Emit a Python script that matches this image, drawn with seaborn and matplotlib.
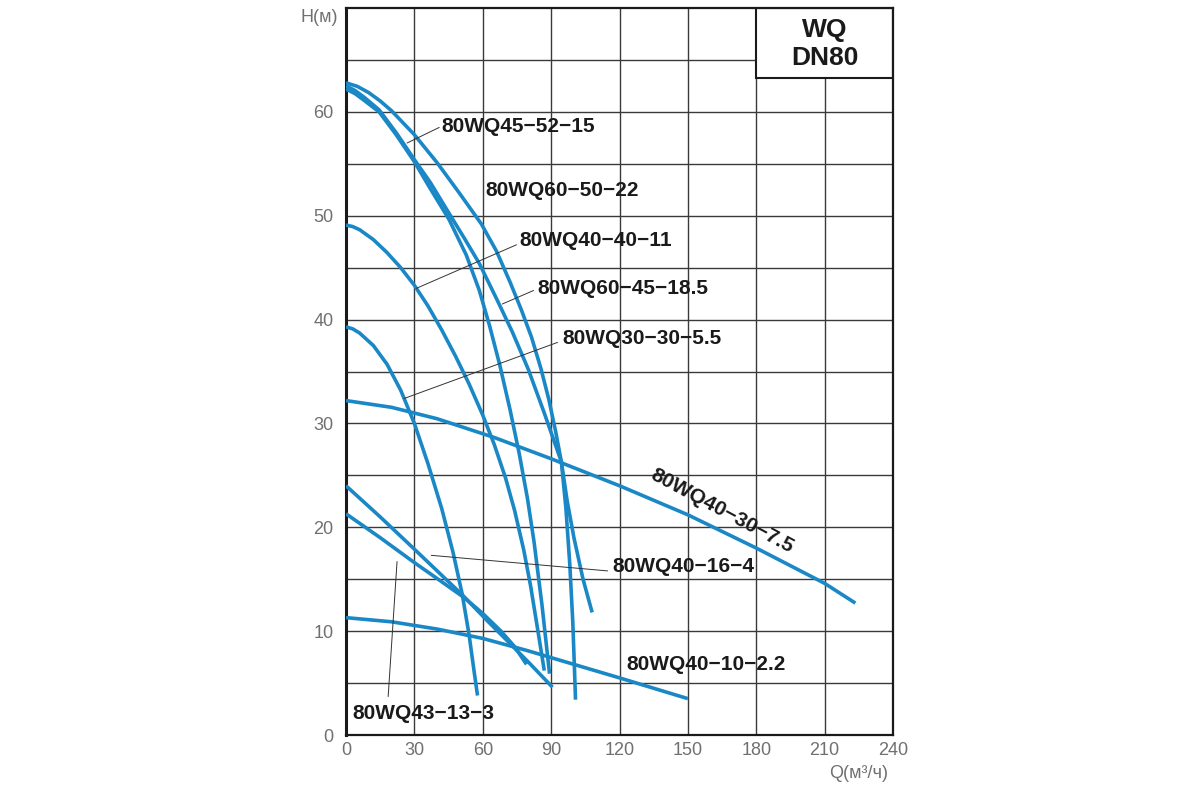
import numpy as np
import pandas as pd
import matplotlib
matplotlib.use("Agg")
import matplotlib.pyplot as plt
from matplotlib.patches import Rectangle
import seaborn as sns

# ---------------- data ----------------
q_60_50_22 = [0, 5, 10, 15, 20, 30, 40, 50, 59.4, 66, 72, 77, 81.4, 85.5, 89, 92, 94.5, 96.5, 98.2, 99.5, 100.3, 100.7]
h_60_50_22 = [62.8, 62.45, 61.85, 61.05, 60.1, 57.8, 55.1, 52.1, 49.2, 46.6, 43.6, 40.9, 38.3, 35.3, 32.3, 29.2, 26.3, 21.8, 16.4, 10.9, 6.0, 3.4]

q_60_45_18 = [0, 4, 8, 14.5, 22, 30, 37, 45.3, 52, 58.5, 66.5, 73, 80, 87, 94.5, 97, 100, 104, 108]
h_60_45_18 = [62.5, 62.05, 61.4, 60.2, 58.0, 55.4, 53.2, 50.2, 47.8, 45.4, 41.8, 38.8, 35.2, 31.0, 26.3, 22.6, 19.0, 15.0, 11.8]

q_45_52_15 = [0, 4, 8, 14.5, 22, 30, 37, 42, 45.3, 52.8, 58.5, 63, 67.5, 72, 76, 79.6, 82.5, 86, 89.3]
h_45_52_15 = [62.2, 61.75, 61.1, 60.0, 57.8, 55.2, 52.6, 50.8, 49.6, 46.2, 42.8, 39.4, 35.6, 31.3, 27.1, 22.8, 18.6, 12.5, 5.9]

q_40_40_11 = [0, 3, 6, 12, 18, 24, 30, 36, 42, 48, 54, 60, 65, 70, 74, 78, 81, 84, 87]
h_40_40_11 = [49.1, 48.95, 48.65, 47.7, 46.45, 45.0, 43.3, 41.3, 39.0, 36.5, 33.8, 30.8, 28.0, 24.75, 21.6, 17.8, 14.35, 10.3, 6.2]

q_30_30_55 = [0, 3, 6, 12, 18, 24, 30, 36, 42, 47, 51, 54, 56, 57.7]
h_30_30_55 = [39.3, 39.1, 38.7, 37.5, 35.7, 33.2, 30.0, 26.1, 21.8, 17.55, 13.55, 9.65, 6.45, 3.8]

q_40_30_75 = [0, 20, 40, 65, 90, 120, 150, 180, 210, 223.5]
h_40_30_75 = [32.2, 31.55, 30.45, 28.65, 26.6, 24.0, 21.2, 18.0, 14.6, 12.7]

q_40_16_4 = [0, 15, 29, 40, 51, 62, 72, 81, 90.6]
h_40_16_4 = [24.0, 21.0, 18.1, 15.8, 13.5, 11.0, 8.8, 6.8, 4.6]

q_43_13_3 = [0, 15, 30, 43, 52, 60, 68, 74, 79.2]
h_43_13_3 = [21.3, 19.0, 16.6, 14.6, 13.2, 11.7, 10.0, 8.5, 6.8]

q_40_10_22 = [0, 20, 40, 60, 80, 100, 120, 150]
h_40_10_22 = [11.3, 10.9, 10.2, 9.3, 8.1, 6.8, 5.5, 3.5]

curve_names = ["80WQ60−50−22", "80WQ60−45−18.5", "80WQ45−52−15", "80WQ40−40−11",
               "80WQ30−30−5.5", "80WQ40−30−7.5", "80WQ40−16−4", "80WQ43−13−3",
               "80WQ40−10−2.2"]
curve_q = [q_60_50_22, q_60_45_18, q_45_52_15, q_40_40_11, q_30_30_55,
           q_40_30_75, q_40_16_4, q_43_13_3, q_40_10_22]
curve_h = [h_60_50_22, h_60_45_18, h_45_52_15, h_40_40_11, h_30_30_55,
           h_40_30_75, h_40_16_4, h_43_13_3, h_40_10_22]

x_ticks = [0, 30, 60, 90, 120, 150, 180, 210, 240]
y_ticks = [0, 10, 20, 30, 40, 50, 60]

# label positions (Q, H) and leader lines
label_names = ["80WQ45−52−15", "80WQ60−50−22", "80WQ40−40−11", "80WQ60−45−18.5",
               "80WQ30−30−5.5", "80WQ40−16−4", "80WQ40−10−2.2", "80WQ43−13−3"]
label_q = [41.8, 61.2, 76.1, 84.0, 95.0, 117.0, 123.0, 2.6]
label_h = [58.6, 52.4, 47.6, 43.0, 38.2, 16.2, 6.8, 2.1]

leader_q0 = [40.9, 74.8, 82.3, 92.8, 114.8, 18.5]
leader_h0 = [58.5, 47.2, 42.8, 37.8, 15.8, 3.7]
leader_q1 = [26.8, 30.8, 68.6, 25.5, 37.4, 22.4]
leader_h1 = [57.0, 43.0, 41.5, 32.4, 17.3, 16.7]

# ---------------- plotting ----------------
sns.set_style("white")
plt.rcParams["font.family"] = ["Liberation Sans", "DejaVu Sans"]

BLUE = "#1a88c6"
GRAY_TXT = "#707070"

fig = plt.figure(figsize=(12, 8), dpi=100)
ax = fig.add_axes([346 / 1200, 1 - 735 / 800, (893 - 346) / 1200, (735 - 8) / 800])

frames = []
for name, q, h in zip(curve_names, curve_q, curve_h):
    frames.append(pd.DataFrame({"Q": q, "H": h, "model": name}))
df = pd.concat(frames, ignore_index=True)

sns.lineplot(data=df, x="Q", y="H", units="model", estimator=None, sort=False,
             color=BLUE, linewidth=2.6, ax=ax, legend=False, zorder=3,
             solid_capstyle="butt", solid_joinstyle="round")

ax.set_xlim(0, 240)
ax.set_ylim(0, 70)
ax.set_xticks(x_ticks)
ax.set_yticks(y_ticks)
ax.set_yticks(np.arange(5, 70, 10), minor=True)
ax.set_xlabel("")
ax.set_ylabel("")
ax.set_axisbelow(True)
ax.grid(True, which="both", axis="y", color="#3a3a3a", linewidth=1.0)
ax.grid(True, which="major", axis="x", color="#3a3a3a", linewidth=1.0)
ax.tick_params(axis="both", which="both", length=0, labelsize=13,
               labelcolor=GRAY_TXT)
ax.tick_params(axis="x", pad=5)
ax.tick_params(axis="y", pad=9)

for side in ["top", "right", "bottom", "left"]:
    ax.spines[side].set_visible(True)
    ax.spines[side].set_color("#1a1a1a")
    ax.spines[side].set_linewidth(1.6)
ax.spines["left"].set_linewidth(2.2)

# title box
ax.add_patch(Rectangle((180, 63.3), 60, 6.7, facecolor="white",
                       edgecolor="#1a1a1a", linewidth=1.5, zorder=2))
ax.text(210, 67.9, "WQ", ha="center", va="center", fontsize=19,
        fontweight="bold", color="#1a1a1a", zorder=4)
ax.text(210, 65.2, "DN80", ha="center", va="center", fontsize=19,
        fontweight="bold", color="#1a1a1a", zorder=4)

# leader lines
for x0, y0, x1, y1 in zip(leader_q0, leader_h0, leader_q1, leader_h1):
    ax.plot([x0, x1], [y0, y1], color="#333333", linewidth=0.7, zorder=4)

# curve labels
for name, x, y in zip(label_names, label_q, label_h):
    ax.text(x, y, name, ha="left", va="center", fontsize=15,
            fontweight="bold", color="#1a1a1a", zorder=5)

ax.text(165, 21.6, "80WQ40−30−7.5", ha="center", va="center", fontsize=15,
        fontweight="bold", color="#1a1a1a", rotation=-28,
        rotation_mode="anchor", zorder=5)

# axis titles
fig.text(338 / 1200, 1 - 17 / 800, "H(м)", ha="right", va="center",
         fontsize=13, color=GRAY_TXT)
fig.text(888 / 1200, 1 - 773 / 800, "Q(м³/ч)", ha="right", va="center",
         fontsize=13, color=GRAY_TXT)

fig.savefig("out.png", dpi=100, facecolor="white")
